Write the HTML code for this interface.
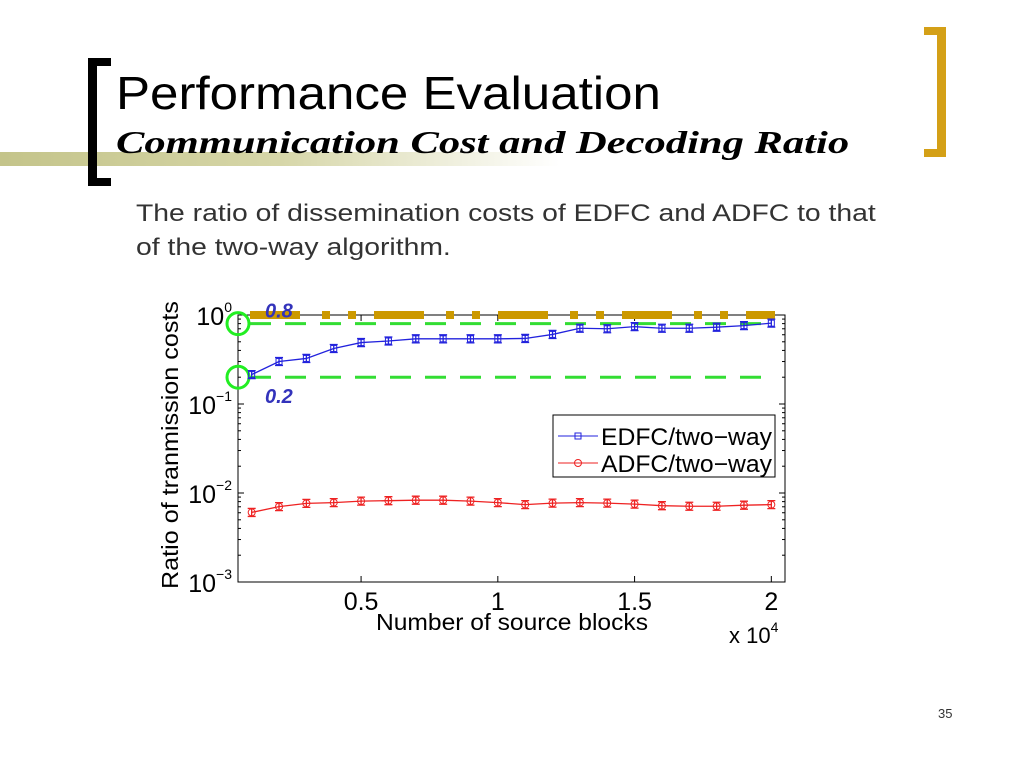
<!DOCTYPE html>
<html><head><meta charset="utf-8"><style>
body{margin:0;width:1024px;height:768px;background:#fff;overflow:hidden;position:relative;font-family:"Liberation Sans",sans-serif}
.abs{position:absolute}
</style></head><body>
<div class="abs" style="left:0;top:152px;width:560px;height:14px;background:linear-gradient(to right,#c4c48a,#d6d6a8 50%,rgba(255,255,255,0))"></div>
<div class="abs" style="left:88px;top:58px;width:9px;height:128px;background:#000"></div>
<div class="abs" style="left:88px;top:58px;width:23px;height:8px;background:#000"></div>
<div class="abs" style="left:88px;top:178px;width:23px;height:8px;background:#000"></div>
<div class="abs" style="left:937px;top:27px;width:9px;height:130px;background:#d4a017"></div>
<div class="abs" style="left:924px;top:27px;width:22px;height:8px;background:#d4a017"></div>
<div class="abs" style="left:924px;top:149px;width:22px;height:8px;background:#d4a017"></div>
<div class="abs" style="left:116px;top:66px;font-size:46px;color:#000;white-space:nowrap;transform-origin:0 0;transform:scaleX(1.11)">Performance Evaluation</div>
<div class="abs" style="left:116px;top:124px;font-family:'Liberation Serif',serif;font-weight:bold;font-style:italic;font-size:32px;white-space:nowrap;transform-origin:0 0;transform:scaleX(1.33)">Communication Cost and Decoding Ratio</div>
<div class="abs" style="left:136px;top:197px;font-size:24px;color:#333;line-height:34px;white-space:nowrap;transform-origin:0 0;transform:scaleX(1.18)">The ratio of dissemination costs of EDFC and ADFC to that<br>of the two-way algorithm.</div>
<div class="abs" style="left:938px;top:706px;font-size:13px;color:#333">35</div>
<svg class="abs" style="left:0;top:0" width="1024" height="768" id="chart"></svg>
<script>
const xs=[1000,2000,3000,4000,5000,6000,7000,8000,9000,10000,11000,12000,13000,14000,15000,16000,17000,18000,19000,20000];
const edfc=[0.214,0.30,0.325,0.42,0.49,0.51,0.54,0.54,0.54,0.54,0.545,0.605,0.71,0.70,0.74,0.71,0.71,0.73,0.76,0.81];
const adfc=[0.00605,0.00703,0.00765,0.0078,0.0081,0.0082,0.0083,0.0083,0.0081,0.0078,0.0074,0.0077,0.0078,0.0077,0.0075,0.0072,0.0071,0.0071,0.0073,0.0074];
const xTicks=[5000,10000,15000,20000];
const xTickLabels=["0.5","1","1.5","2"];
const yTicks=[0,-1,-2,-3];
const refLines=[0.8,0.2];
const refLabels=["0.8","0.2"];
const NS="http://www.w3.org/2000/svg";
const svg=document.getElementById('chart');
const L=238,R=785,T=315,B=582;
const X=v=>L+(v-500)/(20500-500)*(R-L);
const Y=v=>T+(-Math.log10(v))*(B-T)/3;
function mk(tag,a,parent){const e=document.createElementNS(NS,tag);for(const k in a)e.setAttribute(k,a[k]);(parent||svg).appendChild(e);return e;}
let box=mk('rect',{x:L,y:T,width:R-L,height:B-T,fill:'none',stroke:'#000','stroke-width':1});


for(let d=0;d<3;d++){for(let m=2;m<10;m++){const y=Y(m*Math.pow(10,-d-1));
let t=mk('line',{x1:L,x2:L+3,y1:y,y2:y,stroke:'#000'});
let t2=mk('line',{x1:R,x2:R-3,y1:y,y2:y,stroke:'#000'});}}
yTicks.forEach(p=>{const y=Y(Math.pow(10,p));
let t=mk('line',{x1:L,x2:L+6,y1:y,y2:y,stroke:'#000'});
let t3=mk('line',{x1:R,x2:R-6,y1:y,y2:y,stroke:'#000'});
let tx=mk('text',{x:L-6,y:y+10,'text-anchor':'end','font-size':25,'font-family':'Liberation Sans, sans-serif'});tx.textContent='10';

let sp=mk('tspan',{dy:-13,'font-size':14},tx);sp.textContent=String(p===0?'0':p).replace('-','−');});
xTicks.forEach((v,i)=>{const x=X(v);
let t=mk('line',{x1:x,x2:x,y1:B,y2:B-6,stroke:'#000'});
let t2=mk('line',{x1:x,x2:x,y1:T,y2:T+6,stroke:'#000'});
let tx=mk('text',{x:x,y:610,'text-anchor':'middle','font-size':25,'font-family':'Liberation Sans, sans-serif'});tx.textContent=xTickLabels[i];
});
let xl=mk('text',{x:376,y:630,'font-size':23,'font-family':'Liberation Sans, sans-serif',textLength:272,lengthAdjust:'spacingAndGlyphs'});xl.textContent='Number of source blocks';

let xm=mk('text',{x:729,y:643,'font-size':22,'font-family':'Liberation Sans, sans-serif'});xm.textContent='x 10';

let xms=mk('tspan',{dy:-11,'font-size':14},xm);xms.textContent='4';
let yl=mk('text',{x:0,y:0,'text-anchor':'middle','font-size':23,'font-family':'Liberation Sans, sans-serif',transform:'translate(178,445) rotate(-90)',textLength:288,lengthAdjust:'spacingAndGlyphs'});yl.textContent='Ratio of tranmission costs';

let g=mk('line',{x1:250,x2:775,y1:315,y2:315,stroke:'#cc9900','stroke-width':8,'stroke-dasharray':'50 22 8 18 8 18'});

refLines.forEach((v,i)=>{const y=Y(v);
let l=mk('line',{x1:250,x2:775,y1:y,y2:y,stroke:'#33dd33','stroke-width':3,'stroke-dasharray':'21 14'});

let c=mk('circle',{cx:238,cy:y,r:11,fill:'none',stroke:'#22ee22','stroke-width':3});

let tx=mk('text',{x:265,y:i===0?y-6:y+26,'font-size':20,'font-weight':'bold','font-style':'italic',fill:'#3333bb','font-family':'Liberation Sans, sans-serif'});tx.textContent=refLabels[i];
});
function series(vals,color,marker,name){
 const pts=xs.map((x,i)=>X(x)+','+Y(vals[i])).join(' ');
 let pl=mk('polyline',{points:pts,fill:'none',stroke:color,'stroke-width':1.3});
 
 xs.forEach((x,i)=>{const cx=X(x),cy=Y(vals[i]);
  let eb=mk('path',{d:`M${cx-4},${cy-4}H${cx+4}M${cx},${cy-4}V${cy+4}M${cx-4},${cy+4}H${cx+4}`,stroke:color,fill:'none','stroke-width':1.3});
  
  let m=marker==='sq'?mk('rect',{x:cx-3,y:cy-3,width:6,height:6,fill:'none',stroke:color}):mk('circle',{cx:cx,cy:cy,r:3.5,fill:'none',stroke:color});
  });
}
series(edfc,'#2222dd','sq','edfc');
series(adfc,'#ee2222','ci','adfc');
let lg=mk('rect',{x:553,y:415,width:222,height:62,fill:'#fff',stroke:'#000'});

[['EDFC/two−way','#2222dd','sq',436],['ADFC/two−way','#ee2222','ci',463]].forEach(e=>{
 let ln=mk('line',{x1:558,x2:598,y1:e[3],y2:e[3],stroke:e[1]});
 let m=e[2]==='sq'?mk('rect',{x:575,y:e[3]-3,width:6,height:6,fill:'none',stroke:e[1]}):mk('circle',{cx:578,cy:e[3],r:3.5,fill:'none',stroke:e[1]});
 
 let t=mk('text',{x:601,y:e[3]+9,'font-size':24,'font-family':'Liberation Sans, sans-serif',textLength:171,lengthAdjust:'spacingAndGlyphs'});t.textContent=e[0];
 });
</script>
</body></html>
